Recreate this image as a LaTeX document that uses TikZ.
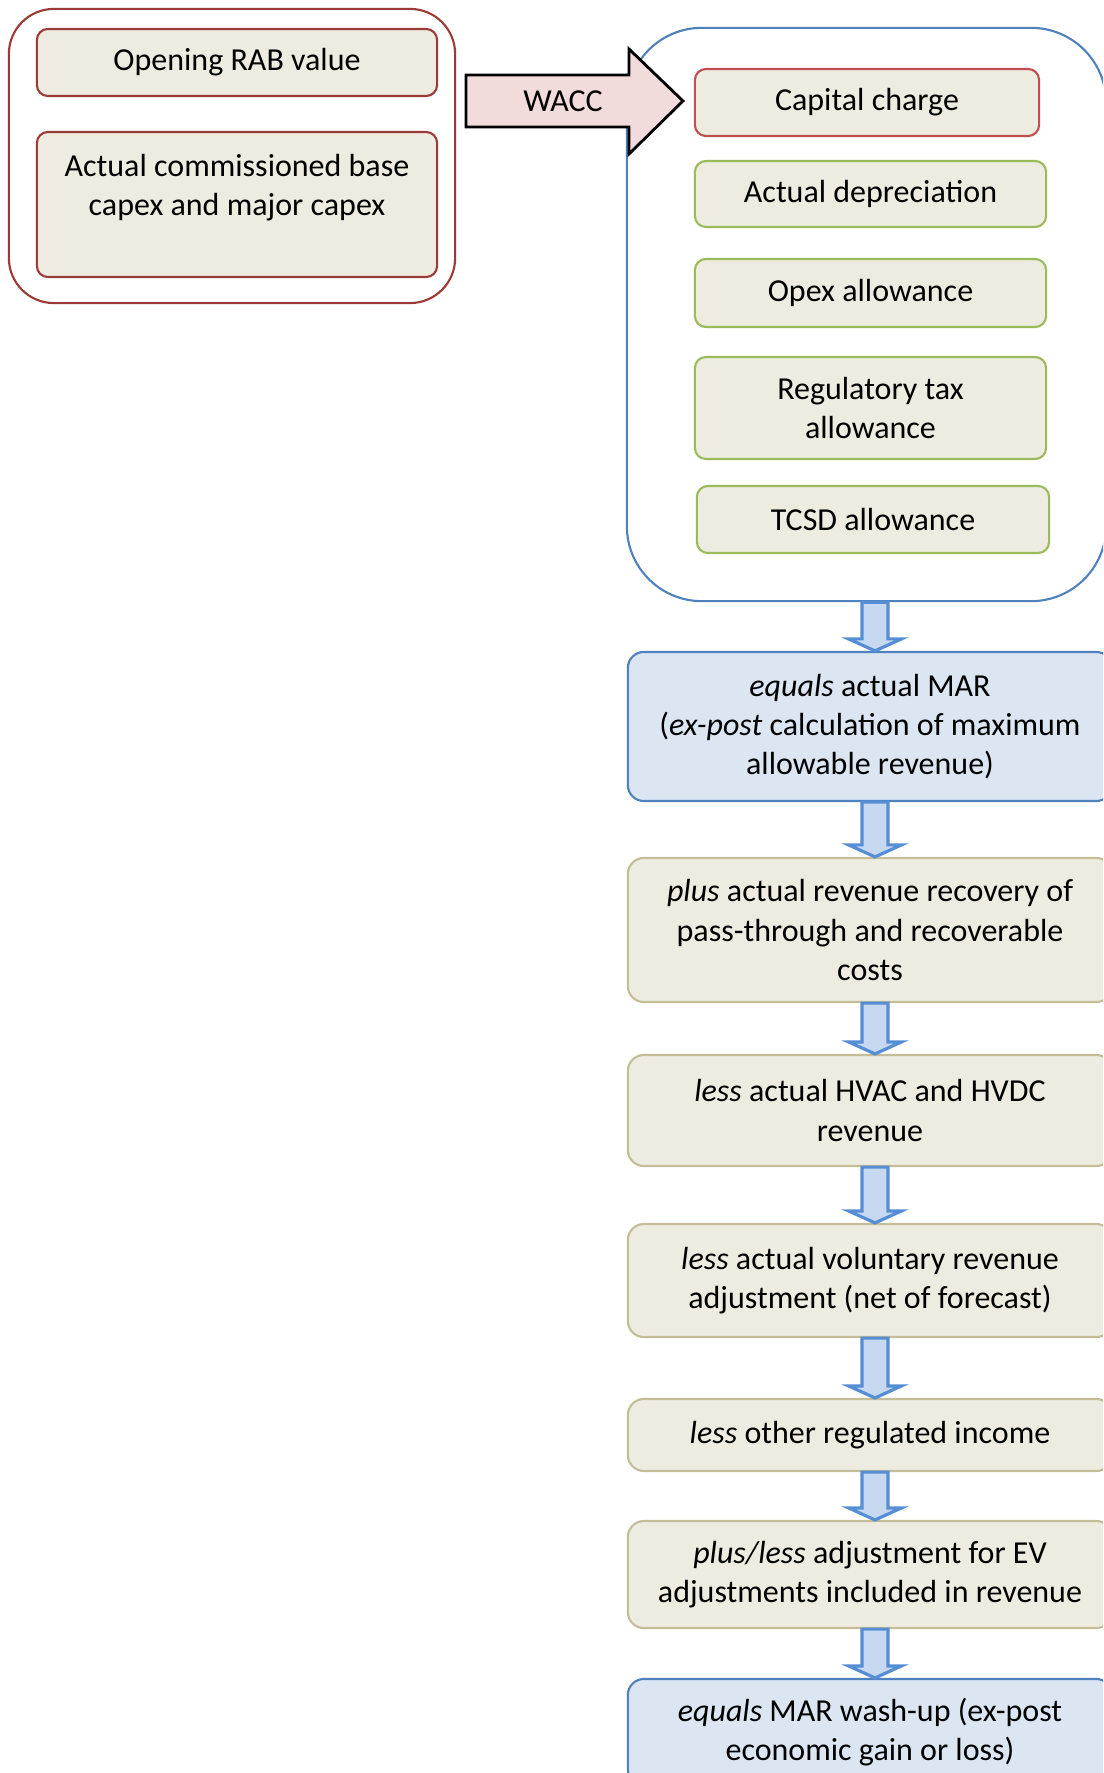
\documentclass[tikz,border=0pt]{standalone}
\usepackage{fontspec}
\setmainfont{Carlito}
\usetikzlibrary{calc}

\definecolor{tanfill}{HTML}{EEECE1}
\definecolor{tanline}{HTML}{C4BD97}
\definecolor{darkred}{HTML}{9B3B38}
\definecolor{capred}{HTML}{C0504D}
\definecolor{olive}{HTML}{9BBB59}
\definecolor{frameblue}{HTML}{4F81BD}
\definecolor{marfill}{HTML}{DCE6F2}
\definecolor{arrfill}{HTML}{C6D9F1}
\definecolor{arrline}{HTML}{558ED5}
\definecolor{waccpink}{HTML}{F2DCDB}

\tikzset{
  inbox/.style={rectangle, rounded corners=0.11cm, draw=darkred, line width=0.6pt,
    fill=tanfill, inner sep=0pt, align=center},
  costbox/.style={inbox, draw=olive, minimum width=3.51cm},
  flowbox/.style={rectangle, rounded corners=0.16cm, draw=tanline, line width=0.6pt,
    fill=tanfill, inner sep=0pt, align=center, minimum width=4.84cm},
  marbox/.style={flowbox, draw=frameblue, fill=marfill},
  flowarr/.style={draw=arrline, fill=arrfill, line width=0.9pt},
}

% block arrow from the foot of one box to the head of the next
\newcommand{\flowarrow}[2]{%
  \draw[flowarr] ($(ax |- #1.south)+(-13,0)$) -- ($(ax |- #2.north)+(-13,-12)$)
    -- ($(ax |- #2.north)+(-26.5,-12)$) -- (ax |- #2.north)
    -- ($(ax |- #2.north)+(26.5,-12)$) -- ($(ax |- #2.north)+(13,-12)$)
    -- ($(ax |- #1.south)+(13,0)$) -- cycle;}

\begin{document}
\begin{tikzpicture}[x=0.01cm,y=-0.01cm,font=\fontsize{9.1pt}{11.1pt}\selectfont]
\useasboundingbox (0,0) rectangle (1103,1773);
\clip (0,0) rectangle (1103,1773);

% inputs
\node[rectangle, rounded corners=0.45cm, draw=darkred, line width=0.6pt,
  minimum width=4.46cm, minimum height=2.94cm] (inputs) at (232,156) {};
\node[inbox, minimum width=4cm, minimum height=0.67cm] (rab) at (237,62.5) {Opening RAB value};
\node[inbox, minimum width=4cm, minimum height=1.45cm] (capex) at (237,204.5)
  {Actual commissioned base\\capex and major capex\\\mbox{}};

% building blocks
\node[rectangle, rounded corners=0.75cm, draw=frameblue, line width=0.6pt,
  minimum width=4.79cm, minimum height=5.73cm] (costs) at (866.5,314.5) {};
\node[inbox, draw=capred, minimum width=3.44cm, minimum height=0.67cm] (capchg) at (867,102.5) {Capital charge};
\node[costbox, minimum height=0.66cm] (dep) at (870.5,194) {Actual depreciation};
\node[costbox, minimum height=0.68cm] (opex) at (870.5,293) {Opex allowance};
\node[costbox, minimum height=1.02cm] (tax) at (870.5,408) {Regulatory tax\\allowance};
\node[costbox, minimum width=3.52cm, minimum height=0.67cm] (tcsd) at (873,519.5) {TCSD allowance};

% WACC arrow
\draw[draw=black, fill=waccpink, line width=0.8pt] (466,75) -- (629,75) -- (629,49) -- (683,101)
  -- (629,154) -- (629,127) -- (466,127) -- cycle;
\node (wacc) at (563,101) {WACC};

% wash-up steps
\node[marbox, minimum height=1.49cm] (mar) at (870,726.5)
  {\textit{equals} actual MAR\\(\textit{ex-post} calculation of maximum\\allowable revenue)};
\node[flowbox, minimum height=1.44cm] (pass) at (870,930)
  {\textit{plus} actual revenue recovery of\\pass-through and recoverable\\costs};
\node[flowbox, minimum height=1.11cm] (hvac) at (870,1110.5)
  {\textit{less} actual HVAC and HVDC\\revenue};
\node[flowbox, minimum height=1.13cm] (vol) at (870,1280.5)
  {\textit{less} actual voluntary revenue\\adjustment (net of forecast)};
\node[flowbox, minimum height=0.72cm] (other) at (870,1435)
  {\textit{less} other regulated income};
\node[flowbox, minimum height=1.07cm] (ev) at (870,1574.5)
  {\textit{plus/less} adjustment for EV\\adjustments included in revenue};
\node[marbox, minimum height=1.06cm] (washup) at (870,1732)
  {\textit{equals} MAR wash-up (ex-post\\economic gain or loss)};

\coordinate (ax) at (875,0);
\flowarrow{costs}{mar}
\flowarrow{mar}{pass}
\flowarrow{pass}{hvac}
\flowarrow{hvac}{vol}
\flowarrow{vol}{other}
\flowarrow{other}{ev}
\flowarrow{ev}{washup}
\end{tikzpicture}
\end{document}
